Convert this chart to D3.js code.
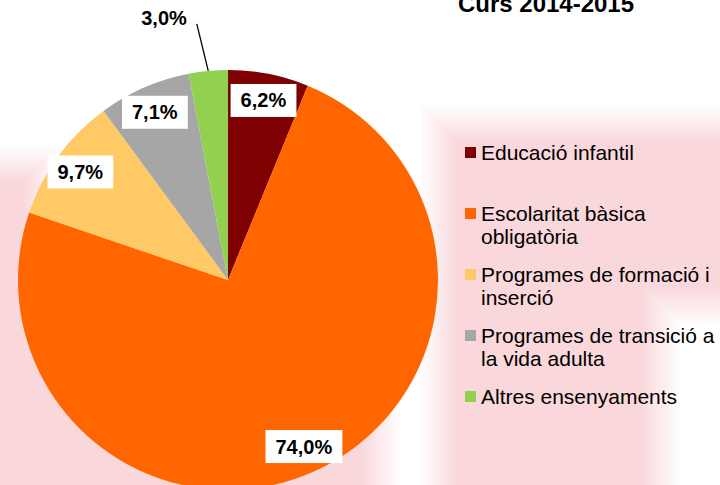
<!DOCTYPE html>
<html>
<head>
<meta charset="utf-8">
<script src="https://cdn.jsdelivr.net/npm/d3@7"></script>
<style>
  body { margin: 0; background: #fff; }
  svg { display: block; font-family: "Liberation Sans", Arial, sans-serif; }
</style>
</head>
<body>
<svg width="720" height="485"></svg>
<script>
var categories = ["Educació infantil", "Escolaritat bàsica obligatòria", "Programes de formació i inserció",
                  "Programes de transició a la vida adulta", "Altres ensenyaments"];
var legendLines = [["Educació infantil"], ["Escolaritat bàsica", "obligatòria"], ["Programes de formació i", "inserció"],
                   ["Programes de transició a", "la vida adulta"], ["Altres ensenyaments"]];
var values = [6.2, 74.0, 9.7, 7.1, 3.0];
var colors = ["#7f0000", "#ff6600", "#ffc966", "#a6a6a6", "#92d050"];
var title = "Curs 2014-2015";

var svg = d3.select("svg"),
    width = +svg.attr("width"),
    height = +svg.attr("height");

var format = function(v) { return d3.format(".1f")(v).replace(".", ",") + "%"; };

// faint pink background patches, feathered level by level (no double tinting)
var bg = svg.append("g");
var steps = 16, feather = 40;
var patches = [[440, 125, 340, 180], [440, 125, 220, 400], [-60, 165, 100, 280], [-60, 330, 440, 220]];
var tint = d3.interpolateRgb("#ffffff", "#f9d7db");
d3.range(steps).forEach(function(k) {
  var inset = (k - steps / 2) * feather / steps;
  patches.forEach(function(r) {
    bg.append("rect")
      .attr("x", r[0] + inset).attr("y", r[1] + inset)
      .attr("width", Math.max(0, r[2] - 2 * inset)).attr("height", Math.max(0, r[3] - 2 * inset))
      .attr("fill", tint((k + 1) / steps));
  });
});

var cx = 228, cy = 280, radius = 210;

var pie = d3.pie().sort(null).value(function(d) { return d; });
var arc = d3.arc().innerRadius(0).outerRadius(radius);
var labelArc = d3.arc().innerRadius(183).outerRadius(183);

var arcs = pie(values);

var g = svg.append("g").attr("transform", "translate(" + cx + "," + cy + ")");

g.selectAll("path.slice")
  .data(arcs)
  .enter().append("path")
    .attr("class", "slice")
    .attr("d", arc)
    .attr("fill", function(d, i) { return colors[i]; });

// inside labels with white boxes
var inside = arcs.filter(function(d) { return d.data >= 5; });
var lab = g.selectAll("g.lab")
  .data(inside)
  .enter().append("g")
    .attr("class", "lab")
    .attr("transform", function(d) { return "translate(" + labelArc.centroid(d) + ")"; });

lab.append("text")
    .attr("text-anchor", "middle")
    .attr("y", 7)
    .style("font-weight", "bold")
    .style("font-size", "20px")
    .text(function(d) { return format(d.data); })
    .each(function() {
      var b = this.getBBox();
      d3.select(this.parentNode).insert("rect", "text")
        .attr("x", b.x - 10).attr("y", -16.5)
        .attr("width", b.width + 20).attr("height", 33)
        .attr("fill", "#fff");
    });

// outside label for small slice
var outside = arcs.filter(function(d) { return d.data < 5; });
outside.forEach(function(d) {
  var mid = (d.startAngle + d.endAngle) / 2;
  var p0 = [radius * Math.sin(mid), -radius * Math.cos(mid)];
  var a1 = mid - 0.027, r1 = 258;
  var p1 = [r1 * Math.sin(a1), -r1 * Math.cos(a1)];
  g.append("line")
    .attr("x1", p0[0]).attr("y1", p0[1])
    .attr("x2", p1[0]).attr("y2", p1[1])
    .attr("stroke", "#000").attr("stroke-width", 1.3);
  g.append("text")
    .attr("x", p1[0] - 10).attr("y", p1[1] + 1)
    .attr("text-anchor", "end")
    .style("font-weight", "bold")
    .style("font-size", "20px")
    .text(format(d.data));
});

// title (cut by the top edge, as in the source)
svg.append("text")
    .attr("x", 546).attr("y", 12)
    .attr("text-anchor", "middle")
    .style("font-weight", "bold")
    .style("font-size", "24px")
    .text(title);

// legend
var ly = d3.scalePoint().domain(categories).range([160, 404]);
var legend = svg.selectAll("g.legend")
  .data(categories)
  .enter().append("g")
    .attr("class", "legend")
    .attr("transform", function(d) { return "translate(465," + ly(d) + ")"; });

legend.append("rect")
    .attr("x", 0).attr("y", -13)
    .attr("width", 11).attr("height", 11)
    .attr("fill", function(d, i) { return colors[i]; });

legend.append("text")
    .style("font-size", "21px")
    .attr("fill", "#000")
  .selectAll("tspan")
  .data(function(d, i) { return legendLines[i]; })
  .enter().append("tspan")
    .attr("x", 16)
    .attr("y", function(d, i) { return i * 23; })
    .text(function(d) { return d; });
</script>
</body>
</html>
